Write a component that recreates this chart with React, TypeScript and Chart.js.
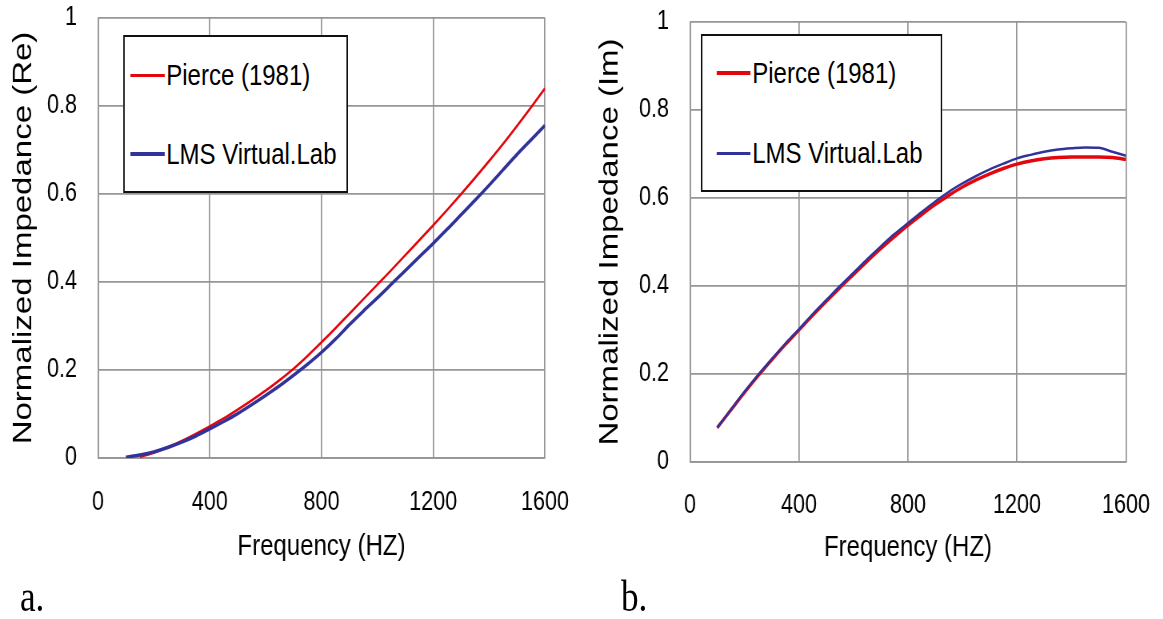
import React, { useEffect, useRef } from "react";
import { Chart, registerables } from "chart.js";

Chart.register(...registerables);

// Frequency grid (Hz) shared by all four curves
const freq = [
  100, 150, 200, 250, 300, 350, 400, 450, 500, 550, 600, 650, 700, 750, 800, 850,
  900, 950, 1000, 1050, 1100, 1150, 1200, 1250, 1300, 1350, 1400, 1450, 1500, 1550, 1600,
];

// (a) real part of the normalized impedance
const pierceRe = [
  null, 0.003, 0.012, 0.025, 0.039, 0.055, 0.072, 0.09, 0.11, 0.131, 0.153, 0.177, 0.203, 0.232, 0.263, 0.295,
  0.328, 0.361, 0.394, 0.427, 0.461, 0.495, 0.529, 0.564, 0.6, 0.637, 0.675, 0.714, 0.755, 0.797, 0.84,
];
const lmsRe = [
  0.002, 0.007, 0.014, 0.024, 0.036, 0.05, 0.066, 0.083, 0.101, 0.121, 0.142, 0.164, 0.188, 0.213, 0.24, 0.27,
  0.303, 0.334, 0.364, 0.395, 0.426, 0.457, 0.488, 0.52, 0.553, 0.586, 0.62, 0.655, 0.69, 0.723, 0.756,
];

// (b) imaginary part of the normalized impedance
const pierceIm = [
  0.078, 0.118, 0.158, 0.196, 0.232, 0.267, 0.3, 0.333, 0.365, 0.396, 0.426, 0.456, 0.485, 0.512, 0.538, 0.562,
  0.585, 0.606, 0.625, 0.641, 0.655, 0.667, 0.677, 0.684, 0.689, 0.692, 0.693, 0.693, 0.693, 0.692, 0.688,
];
const lmsIm = [
  0.078, 0.119, 0.16, 0.198, 0.234, 0.269, 0.302, 0.336, 0.368, 0.4, 0.43, 0.461, 0.49, 0.518, 0.543, 0.568,
  0.592, 0.614, 0.633, 0.65, 0.665, 0.678, 0.69, 0.698, 0.705, 0.71, 0.713, 0.715, 0.714, 0.705, 0.696,
];

const xTicks = [0, 400, 800, 1200, 1600];
const yTicks = [0, 0.2, 0.4, 0.6, 0.8, 1];
const seriesNames = ["Pierce (1981)", "LMS Virtual.Lab"];
const xTitle = "Frequency (HZ)";

const RED = "#e3060c";
const BLUE = "#32339a";
const GRID = "#959595";
const SANS = "'Liberation Sans', Arial, sans-serif";
const SERIF = "'Liberation Serif', 'Times New Roman', serif";

// Each panel is laid out wide and squeezed horizontally, giving the narrow type
const SQUEEZE = 0.8;
const PAGE_H = 619;
const X_AXIS_H = 120;

type Series = { label: string; values: (number | null)[]; color: string; width: number; order: number };

type PanelProps = {
  left: number; // page x of the panel
  width: number; // page width of the panel
  plotLeft: number; // page coordinates of the plot area
  plotRight: number;
  plotTop: number;
  plotBottom: number;
  yTitle: string;
  yTitleCenter: number; // page x of the rotated y title's centre
  xTitleCenter: number; // page y of the x title's centre
  xTickPad: number;
  series: Series[];
  legend: { left: number; top: number; right: number; bottom: number; rowCenters: number[]; lineLeft: number };
  caption: string;
  captionLeft: number;
};

function ImpedancePanel(p: PanelProps) {
  const canvasRef = useRef<HTMLCanvasElement | null>(null);
  const ux = (x: number) => (x - p.left) / SQUEEZE;
  const cw = Math.round(p.width / SQUEEZE);

  useEffect(() => {
    const canvas = canvasRef.current;
    if (!canvas) return;
    const yAxisW = ux(p.plotLeft);
    const yTitleLH = 33 * 1.2;
    const xTitleLH = 30 * 1.2;
    const xTitleInset = p.plotBottom + X_AXIS_H - p.xTitleCenter - xTitleLH / 2;
    const yTitleInset = ux(p.yTitleCenter) - yTitleLH / 2;
    const chart = new Chart(canvas, {
      type: "line",
      data: {
        datasets: p.series.map((s) => ({
          label: s.label,
          data: freq.map((f, i) => ({ x: f, y: s.values[i] })),
          borderColor: s.color,
          backgroundColor: s.color,
          borderWidth: s.width,
          pointRadius: 0,
          cubicInterpolationMode: "monotone" as const,
          order: s.order,
        })),
      },
      options: {
        responsive: false,
        animation: false,
        devicePixelRatio: 1,
        layout: {
          padding: {
            left: 0,
            top: p.plotTop,
            right: cw - ux(p.plotRight),
            bottom: PAGE_H - p.plotBottom - X_AXIS_H,
          },
        },
        plugins: { legend: { display: false }, tooltip: { enabled: false } },
        scales: {
          x: {
            type: "linear",
            min: xTicks[0],
            max: xTicks[xTicks.length - 1],
            afterBuildTicks: (s: any) => {
              s.ticks = xTicks.map((v) => ({ value: v }));
            },
            afterFit: (s: any) => {
              s.height = X_AXIS_H;
              s.paddingLeft = 0;
              s.paddingRight = 0;
            },
            grid: { color: GRID, lineWidth: 1.7, drawTicks: false },
            border: { color: GRID, width: 1.7 },
            ticks: {
              color: "#000",
              padding: p.xTickPad,
              maxRotation: 0,
              font: { family: SANS, size: 27 },
              callback: (v: any) => String(v),
            },
            title: {
              display: true,
              text: xTitle,
              color: "#000",
              font: { family: SANS, size: 30 },
              padding: { top: xTitleInset, bottom: xTitleInset },
            },
          },
          y: {
            type: "linear",
            min: yTicks[0],
            max: yTicks[yTicks.length - 1],
            afterBuildTicks: (s: any) => {
              s.ticks = yTicks.map((v) => ({ value: v }));
            },
            afterFit: (s: any) => {
              s.width = yAxisW;
              s.paddingTop = 0;
              s.paddingBottom = 0;
            },
            grid: { color: GRID, lineWidth: 1.7, drawTicks: false },
            border: { color: GRID, width: 1.7 },
            ticks: {
              color: "#000",
              padding: 21 / SQUEEZE,
              font: { family: SANS, size: 27 },
              callback: (v: any) => String(v),
            },
            title: {
              display: true,
              text: p.yTitle,
              color: "#000",
              font: { family: SANS, size: 33 },
              padding: { top: yTitleInset, bottom: yTitleInset },
            },
          },
        },
      },
    });
    return () => chart.destroy();
  }, []);

  const lg = p.legend;
  return (
    <div
      style={{
        position: "absolute",
        left: p.left,
        top: 0,
        width: cw,
        height: PAGE_H,
        transform: `scaleX(${SQUEEZE})`,
        transformOrigin: "left top",
      }}
    >
      <canvas
        ref={canvasRef}
        width={cw}
        height={PAGE_H}
        style={{ position: "absolute", left: 0, top: 0, width: cw, height: PAGE_H }}
      />
      <div
        style={{
          position: "absolute",
          left: ux(lg.left),
          top: lg.top,
          width: ux(lg.right) - ux(lg.left),
          height: lg.bottom - lg.top,
          boxSizing: "border-box",
          border: "2px solid #111",
          borderLeftWidth: 2.5,
          borderRightWidth: 2.5,
          background: "#fff",
        }}
      >
        {p.series.map((s, i) => (
          <div
            key={s.label}
            style={{
              position: "absolute",
              left: (lg.lineLeft - lg.left) / SQUEEZE - 2.5,
              top: lg.rowCenters[i] - lg.top - 2 - 20,
              height: 40,
              display: "flex",
              alignItems: "center",
              whiteSpace: "nowrap",
            }}
          >
            <div style={{ width: 34 / SQUEEZE, height: s.width + 0.5, background: s.color }} />
            <span
              style={{
                fontFamily: SANS,
                fontSize: 30,
                lineHeight: "40px",
                color: "#000",
                marginLeft: 2,
              }}
            >
              {s.label}
            </span>
          </div>
        ))}
      </div>
      <div
        style={{
          position: "absolute",
          left: ux(p.captionLeft),
          top: 575,
          fontFamily: SERIF,
          fontSize: 44,
          lineHeight: "44px",
          color: "#000",
        }}
      >
        {p.caption}
      </div>
    </div>
  );
}

export default function App() {
  return (
    <div style={{ position: "absolute", left: 0, top: 0, width: 1163, height: PAGE_H, background: "#fff", overflow: "hidden" }}>
      <ImpedancePanel
        left={0}
        width={580}
        plotLeft={98}
        plotRight={545}
        plotTop={18}
        plotBottom={458}
        yTitle="Normalized Impedance (Re)"
        yTitleCenter={24}
        xTitleCenter={547}
        xTickPad={28}
        series={[
          { label: seriesNames[0], values: pierceRe, color: RED, width: 2.5, order: 2 },
          { label: seriesNames[1], values: lmsRe, color: BLUE, width: 3.5, order: 1 },
        ]}
        legend={{ left: 123, top: 35, right: 348, bottom: 193, rowCenters: [75, 154], lineLeft: 131 }}
        caption="a."
        captionLeft={20}
      />
      <ImpedancePanel
        left={580}
        width={583}
        plotLeft={690}
        plotRight={1126}
        plotTop={22}
        plotBottom={462}
        yTitle="Normalized Impedance (Im)"
        yTitleCenter={610}
        xTitleCenter={548}
        xTickPad={27}
        series={[
          { label: seriesNames[0], values: pierceIm, color: RED, width: 3.5, order: 2 },
          { label: seriesNames[1], values: lmsIm, color: BLUE, width: 2.5, order: 1 },
        ]}
        legend={{ left: 701, top: 34, right: 942, bottom: 192, rowCenters: [73, 153], lineLeft: 717 }}
        caption="b."
        captionLeft={621}
      />
    </div>
  );
}
